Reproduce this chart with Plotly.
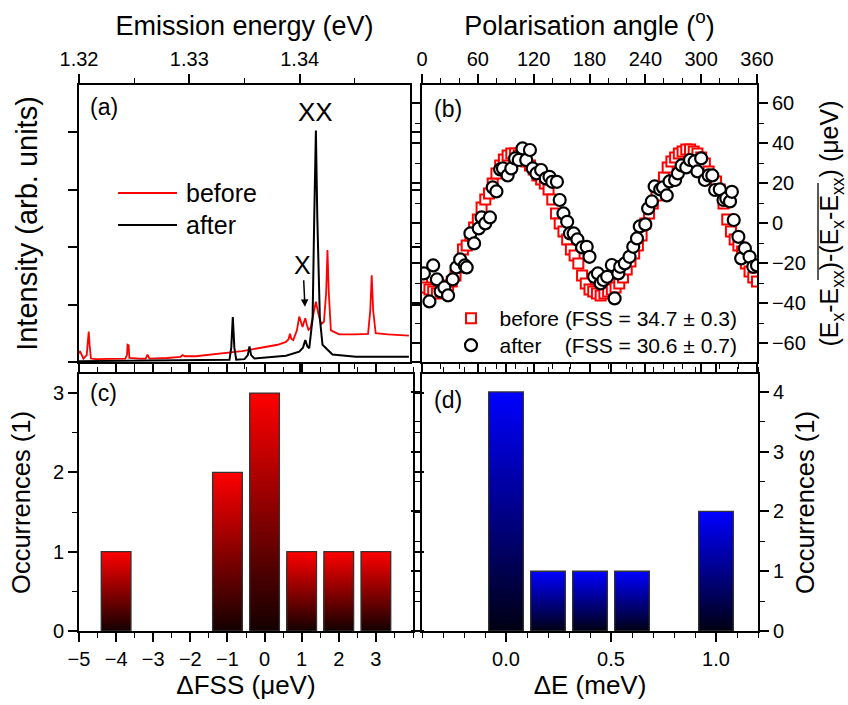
import plotly.graph_objects as go

# ---------------- Panel (a): PL spectra ----------------
energy_before = [1.3200, 1.32009, 1.32040, 1.32070, 1.32080, 1.32088, 1.32096, 1.32108,
                 1.32150, 1.32200, 1.32300, 1.32420, 1.32435, 1.32440, 1.32450, 1.32456,
                 1.32550, 1.32605, 1.32615, 1.32621, 1.32628, 1.32638, 1.32800, 1.32920,
                 1.32940, 1.32960, 1.33060, 1.33174, 1.33274, 1.33394, 1.33479, 1.33572,
                 1.33725, 1.33800, 1.33876, 1.33900, 1.33912, 1.33925, 1.33942, 1.33975,
                 1.33996, 1.34010, 1.34026, 1.34040, 1.34051, 1.34065, 1.34080, 1.34100,
                 1.34130, 1.34147, 1.34168, 1.34195, 1.34220, 1.34240, 1.34252, 1.34264,
                 1.34283, 1.34358, 1.34500, 1.34620, 1.34640, 1.34653, 1.34666, 1.34689,
                 1.34800, 1.34990]
intensity_before = [0.15, 0.19, 0.06, 0.12, 0.35, 0.53, 0.30, 0.06,
                    0.05, 0.05, 0.05, 0.06, 0.12, 0.30, 0.29, 0.07,
                    0.06, 0.06, 0.10, 0.13, 0.10, 0.06, 0.07, 0.09,
                    0.12, 0.10, 0.10, 0.12, 0.15, 0.17, 0.19, 0.22,
                    0.27, 0.30, 0.35, 0.40, 0.49, 0.40, 0.38, 0.55,
                    0.79, 0.70, 0.61, 0.70, 0.76, 0.65, 0.56, 0.60,
                    0.85, 1.05, 0.85, 0.66, 0.70, 1.20, 1.95, 1.20,
                    0.55, 0.48, 0.48, 0.49, 0.90, 1.51, 0.90, 0.50,
                    0.48, 0.46]
energy_after = [1.3200, 1.3250, 1.3300, 1.33274, 1.33364, 1.33380, 1.33394, 1.33408,
                1.33425, 1.33500, 1.33530, 1.33545, 1.33560, 1.33590, 1.33876, 1.33996,
                1.34030, 1.34051, 1.34070, 1.34087, 1.34117, 1.34132, 1.34147, 1.34160,
                1.34183, 1.34207, 1.34297, 1.34509, 1.34990]
intensity_after = [0.015, 0.02, 0.03, 0.035, 0.04, 0.25, 0.78, 0.25,
                   0.04, 0.05, 0.12, 0.27, 0.12, 0.06, 0.11, 0.18,
                   0.25, 0.38, 0.27, 0.24, 0.76, 2.50, 4.03, 2.50,
                   0.76, 0.30, 0.13, 0.09, 0.09]
energy_ticks = [1.32, 1.33, 1.34]

# ---------------- Panel (b): polarisation dependence ----------------
angle_before = [0, 4, 8, 12, 16, 20, 24, 28, 32, 36, 40, 44, 48, 52, 56, 60, 64, 68, 72, 76,
                80, 84, 88, 92, 96, 100, 104, 108, 112, 116, 120, 124, 128, 132, 136, 140,
                144, 148, 152, 156, 160, 164, 168, 172, 176, 180, 184, 188, 192, 196, 200,
                204, 208, 212, 216, 220, 224, 228, 232, 236, 240, 244, 248, 252, 256, 260,
                264, 268, 272, 276, 280, 284, 288, 292, 296, 300, 304, 308, 312, 316, 320,
                324, 328, 332, 336, 340, 344, 348, 352, 356, 360]
delta_before = [-30, -32, -33, -34, -35, -34, -33, -31, -29, -26, -22, -13, -11, -6, -2, 2, 8, 12, 15, 20,
                25, 29, 32, 34, 35, 35, 34, 33, 31, 29, 27, 24, 22, 20, 17, 12,
                5, 0, -4, -8, -13, -16, -20, -26, -30, -33, -34, -35, -36, -35, -34,
                -33, -32, -30, -27, -23, -19, -15, -11, -6, 0, 5, 10, 14, 18, 23,
                28, 31, 33, 35, 36, 37, 37, 36, 35, 33, 30, 26, 22, 21, 17,
                10, 2, -4, -8, -11, -14, -20, -24, -27, -29]
angle_after = [2, 8, 12, 16, 20, 24, 28, 33, 37, 41, 46, 48, 52, 56, 61, 64, 68, 73, 76, 80,
               84, 87, 92, 96, 100, 104, 108, 112, 116, 119, 123, 128, 133, 137, 140, 145,
               148, 152, 156, 159, 163, 167, 172, 177, 180, 185, 189, 192, 195, 199, 204,
               207, 211, 213, 218, 223, 227, 231, 234, 240, 243, 247, 250, 256, 259, 263,
               266, 272, 275, 279, 284, 288, 293, 296, 300, 304, 308, 312, 315, 320, 324,
               327, 331, 333, 335, 340, 343, 347, 352, 356, 360]
delta_after = [-25, -39, -21, -28, -34, -32, -36, -28, -22, -18, -21, -22, -5, -10, -2.5, 3, 0, 3, 18, 16,
               27, 27.5, 24, 27.5, 32.5, 31.7, 37.5, 31.7, 36.7, 27.5, 25, 26.7, 22.5, 23.3, 20.8, 20.8,
               11.7, 5, 0.8, -5, -5, -8, -12, -11.7, -16.7, -26.7, -25, -30, -28.3, -26.7, -20.8,
               -37.5, -25, -21.7, -20, -16.7, -11.7, -7.5, -1.5, -0.5, 7.5, 11, 18.5, 17, 18, 14,
               21, 21.7, 25, 29, 28, 31.7, 31, 26, 32.5, 21.7, 24, 24, 16.7, 17, 11.7,
               12.5, 11, 15.8, 1.7, -6.7, -17.5, -12.5, -16.7, -21.7, -21]
label_before = "before (FSS = 34.7 \u00b1 0.3)"
label_after = "after\u00a0\u00a0\u00a0\u00a0(FSS = 30.6 \u00b1 0.7)"

# ---------------- Panels (c) and (d): histograms ----------------
dfss_bins = [-4, -1, 0, 1, 2, 3]
dfss_counts = [1, 2, 3, 1, 1, 1]
dfss_ticks = [-5, -4, -3, -2, -1, 0, 1, 2, 3]
de_bins = [0.0, 0.2, 0.4, 0.6, 1.0]
de_counts = [4, 1, 1, 1, 2]

FONT = "Liberation Sans, Arial, sans-serif"
W, H = 848, 705


def px_x(x):
    return x / W


def px_y(y):
    return 1 - y / H


fig = go.Figure()

fig.add_trace(go.Scatter(x=energy_before, y=intensity_before, mode="lines",
                         line=dict(color="#ff0000", width=1.8), xaxis="x", yaxis="y",
                         showlegend=False, hoverinfo="skip"))
fig.add_trace(go.Scatter(x=energy_after, y=intensity_after, mode="lines",
                         line=dict(color="#000000", width=2.0), xaxis="x", yaxis="y",
                         showlegend=False, hoverinfo="skip"))

fig.add_trace(go.Scatter(x=angle_before, y=delta_before, mode="markers", name=label_before,
                         marker=dict(symbol="square", size=10, color="white",
                                     line=dict(color="#ff0000", width=2)),
                         xaxis="x2", yaxis="y2", legend="legend"))
fig.add_trace(go.Scatter(x=angle_after, y=delta_after, mode="markers", name=label_after,
                         marker=dict(symbol="circle", size=12, color="white",
                                     line=dict(color="#000000", width=2.2)),
                         xaxis="x2", yaxis="y2", legend="legend2"))


def add_gradient_bars(xs, counts, width, xa, ya, top_rgb, bottom_rgb, n=48):
    for k in range(n):
        f = (n - k) / n
        fm = (n - k - 0.5) / n
        col = tuple(int(round(b + (t - b) * fm)) for b, t in zip(bottom_rgb, top_rgb))
        fig.add_trace(go.Bar(x=xs, y=[c * f for c in counts], width=width, xaxis=xa, yaxis=ya,
                             marker=dict(color="rgb(%d,%d,%d)" % col, line=dict(width=0)),
                             showlegend=False, hoverinfo="skip"))
    fig.add_trace(go.Bar(x=xs, y=counts, width=width, xaxis=xa, yaxis=ya,
                         marker=dict(color="rgba(0,0,0,0)", line=dict(color="#333333", width=1.3)),
                         showlegend=False, hoverinfo="skip"))


add_gradient_bars(dfss_bins, dfss_counts, 0.8, "x3", "y3", (255, 0, 0), (20, 0, 0))
add_gradient_bars(de_bins, de_counts, 0.165, "x4", "y4", (0, 0, 255), (0, 0, 20))


def axis(**kw):
    d = dict(showline=True, linecolor="black", linewidth=1.8, mirror="allticks",
             ticks="outside", ticklen=9, tickwidth=1.6, tickcolor="black",
             showgrid=False, zeroline=False, automargin=False,
             tickfont=dict(family=FONT, size=20, color="black"))
    d.update(kw)
    return d


def minor(dt=None, vals=None):
    m = dict(ticks="outside", ticklen=5, tickwidth=1.4, tickcolor="black", showgrid=False)
    if vals is not None:
        m.update(tickmode="array", tickvals=vals)
    else:
        m.update(dtick=dt)
    return m


ya_dom = [px_y(362), px_y(85)]
yc_dom = [px_y(631), px_y(374)]


def tf(size):
    return dict(family=FONT, size=size, color="black")


legend_common = dict(xanchor="left", yanchor="top", bgcolor="rgba(0,0,0,0)", borderwidth=0,
                     itemwidth=47, font=dict(family=FONT, size=21, color="black"))

fig.update_layout(
    width=W, height=H, margin=dict(l=0, r=0, t=0, b=0),
    paper_bgcolor="white", plot_bgcolor="white",
    font=dict(family=FONT, color="black"),
    barmode="overlay",
    xaxis=axis(domain=[px_x(79), px_x(410)], anchor="y", side="top", range=[1.32, 1.35],
               tickmode="array", tickvals=energy_ticks, tickformat=".2f",
               minor=minor(vals=[1.325, 1.335, 1.345]),
               title=dict(text="Emission energy (eV)", font=tf(27), standoff=5)),
    yaxis=axis(domain=ya_dom, anchor="x", range=[0, 4.82], dtick=1, showticklabels=False,
               title=dict(text="Intensity (arb. units)", font=tf(29), standoff=22)),
    xaxis2=axis(domain=[px_x(422), px_x(757)], anchor="y2", side="top", range=[0, 360],
                tick0=0, dtick=60, minor=minor(20),
                title=dict(text="Polarisation angle (<sup>o</sup>)", font=tf(27), standoff=5)),
    yaxis2=axis(domain=ya_dom, anchor="x2", side="right", range=[-69.3, 69.2], dtick=20,
                minor=minor(10),
                title=dict(text="(E<sub>x</sub>-E<sub>xx</sub>)-(E<sub>x</sub>-E<sub>xx</sub>) (\u03bceV)",
                           font=tf(25), standoff=16)),
    xaxis3=axis(domain=[px_x(79), px_x(413)], anchor="y3", range=[-5, 4],
                tickmode="array", tickvals=dfss_ticks,
                minor=minor(0.5),
                title=dict(text="\u0394FSS (\u03bceV)", font=tf(26), standoff=6)),
    yaxis3=axis(domain=yc_dom, anchor="x3", range=[0, 3.24], dtick=1, minor=minor(0.5),
                title=dict(text="Occurrences (1)", font=tf(25.5), standoff=15)),
    xaxis4=axis(domain=[px_x(422), px_x(758)], anchor="y4", range=[-0.4, 1.2], tick0=0,
                dtick=0.5, tickformat=".1f", minor=minor(0.1),
                title=dict(text="\u0394E (meV)", font=tf(26), standoff=6)),
    yaxis4=axis(domain=yc_dom, anchor="x4", side="right", range=[0, 4.3], dtick=1,
                minor=minor(0.5),
                title=dict(text="Occurrences (1)", font=tf(25.5), standoff=13)),
    legend=dict(x=px_x(442.5), y=px_y(298), **legend_common),
    legend2=dict(x=px_x(442.5), y=px_y(325), **legend_common),
    showlegend=True,
)

annotations = [
    dict(text="(a)", x=0.027, y=0.92, xref="x domain", yref="y domain", xanchor="left",
         yanchor="middle", showarrow=False, font=tf(23)),
    dict(text="(b)", x=0.03, y=0.913, xref="x2 domain", yref="y2 domain", xanchor="left",
         yanchor="middle", showarrow=False, font=tf(23)),
    dict(text="(c)", x=0.027, y=0.926, xref="x3 domain", yref="y3 domain", xanchor="left",
         yanchor="middle", showarrow=False, font=tf(23)),
    dict(text="(d)", x=0.03, y=0.90, xref="x4 domain", yref="y4 domain", xanchor="left",
         yanchor="middle", showarrow=False, font=tf(23)),
    dict(text="XX", x=1.34147, y=4.35, xref="x", yref="y", showarrow=False, font=tf(26)),
    dict(text="X", x=1.34048, y=0.96, xref="x", yref="y", showarrow=True, ax=-2, ay=-42,
         arrowhead=2, arrowsize=1, arrowwidth=1.5, arrowcolor="black", font=tf(25)),
    dict(text="before", x=0.3172, y=0.610, xref="x domain", yref="y domain", xanchor="left",
         yanchor="middle", showarrow=False, font=tf(25)),
    dict(text="after", x=0.3172, y=0.4946, xref="x domain", yref="y domain", xanchor="left",
         yanchor="middle", showarrow=False, font=tf(25)),
]
fig.update_layout(annotations=annotations)

shapes = [
    dict(type="line", xref="x domain", yref="y domain", x0=0.118, x1=0.296, y0=0.610, y1=0.610,
         line=dict(color="#ff0000", width=2)),
    dict(type="line", xref="x domain", yref="y domain", x0=0.118, x1=0.296, y0=0.4946, y1=0.4946,
         line=dict(color="#000000", width=2)),
    # overline over the averaged term of the right axis title of (b)
    dict(type="line", xref="paper", yref="paper", x0=px_x(818), x1=px_x(818),
         y0=px_y(280), y1=px_y(183), line=dict(color="black", width=1.3)),
]
fig.update_layout(shapes=shapes)

fig.write_html("out.html")
